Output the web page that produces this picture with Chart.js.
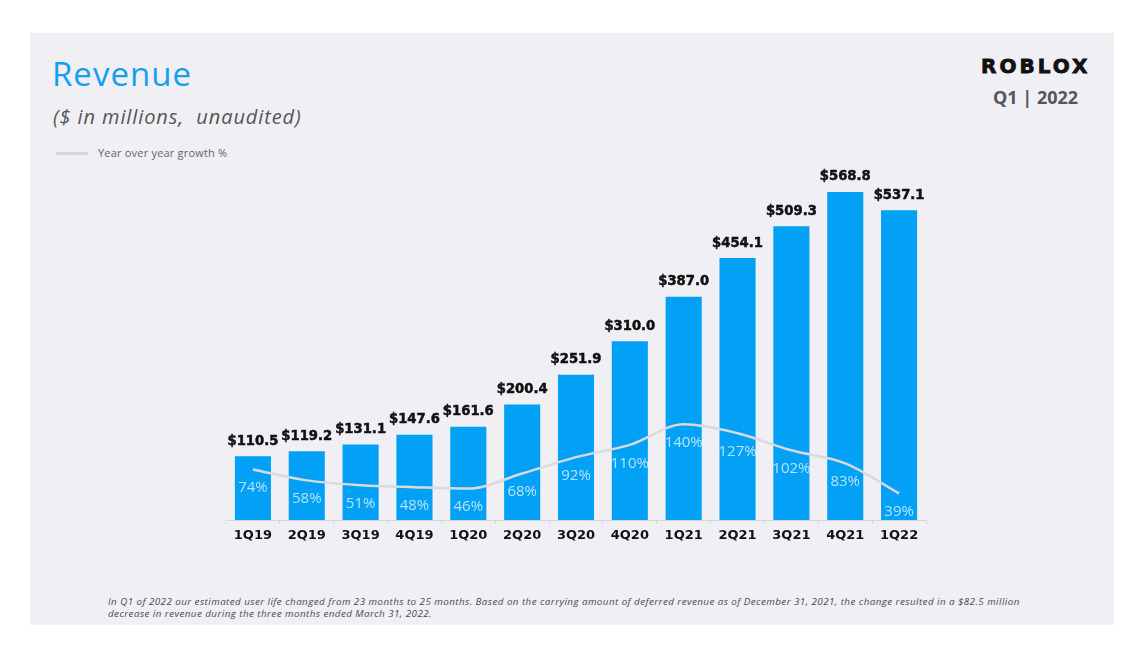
<!DOCTYPE html>
<html>
<head>
<meta charset="utf-8">
<script src="https://cdn.jsdelivr.net/npm/chart.js@4"></script>
<style>
  html, body { margin:0; padding:0; background:#ffffff; width:1144px; height:660px; overflow:hidden; }
  #panel { position:absolute; left:30px; top:33px; width:1084px; height:592px; background:#efeff4; }
  .abs { position:absolute; white-space:nowrap; }
  #title { left:52px; top:51px; font:400 33px "Open Sans", sans-serif; color:#169ff0; letter-spacing:1px; }
  #sub { left:53px; top:103px; font:italic 400 20px "Open Sans", sans-serif; color:#555558; letter-spacing:0.9px; }
  #legline { left:56px; top:152px; width:32px; height:3px; background:#d6d6da; }
  #legtext { left:98px; top:145px; font:400 11px "Open Sans", sans-serif; color:#666; letter-spacing:0.2px; }
  #logo { left:981px; top:54px; font:700 20px "DejaVu Sans", sans-serif; color:#111; letter-spacing:3px; -webkit-text-stroke:0.8px #111; }
  #q { left:993px; top:85px; font:700 18px "Open Sans", sans-serif; color:#55555a; }
  #foot { left:108px; top:596px; font:italic 400 9.8px "Open Sans", sans-serif; color:#4a4a4f; line-height:11.5px; letter-spacing:0.44px; }
  #wrap { position:absolute; left:200px; top:150px; width:760px; height:400px; }
</style>
</head>
<body>
<div id="panel"></div>
<div class="abs" id="title">Revenue</div>
<div class="abs" id="sub">($ in millions,&nbsp; unaudited)</div>
<div class="abs" id="legline"></div>
<div class="abs" id="legtext">Year over year growth %</div>
<div class="abs" id="logo">ROBLOX</div>
<div class="abs" id="q">Q1 | 2022</div>
<div class="abs" id="foot">In Q1 of 2022 our estimated user life changed from 23 months to 25 months. Based on the carrying amount of deferred revenue as of December 31, 2021, the change resulted in a $82.5 million<br>decrease in revenue during the three months ended March 31, 2022.</div>
<div id="wrap"><canvas id="c" width="760" height="400"></canvas></div>
<script>
const categories = ["1Q19","2Q19","3Q19","4Q19","1Q20","2Q20","3Q20","4Q20","1Q21","2Q21","3Q21","4Q21","1Q22"];
const revenue = [110.5, 119.2, 131.1, 147.6, 161.6, 200.4, 251.9, 310.0, 387.0, 454.1, 509.3, 568.8, 537.1];
const growth = [74, 58, 51, 48, 46, 68, 92, 110, 140, 127, 102, 83, 39];
const revenueLabels = ["$110.5","$119.2","$131.1","$147.6","$161.6","$200.4","$251.9","$310.0","$387.0","$454.1","$509.3","$568.8","$537.1"];
const growthLabels = growth.map(v => v + "%");

const labelPlugin = {
  id: 'labels',
  afterDatasetsDraw(chart) {
    const ctx = chart.ctx;
    ctx.save();
    const barMeta = chart.getDatasetMeta(1);
    ctx.font = '700 13.2px "DejaVu Sans", sans-serif';
    ctx.fillStyle = '#111111';
    ctx.strokeStyle = '#111111';
    ctx.lineWidth = 0.5;
    ctx.textAlign = 'center';
    ctx.textBaseline = 'middle';
    barMeta.data.forEach((el, i) => {
      ctx.fillText(revenueLabels[i], el.x, el.y - 15);
      ctx.strokeText(revenueLabels[i], el.x, el.y - 15);
    });
    const lineMeta = chart.getDatasetMeta(0);
    ctx.font = '400 15px "Open Sans", sans-serif';
    ctx.fillStyle = 'rgba(255,255,255,0.7)';
    lineMeta.data.forEach((el, i) => {
      ctx.fillText(growthLabels[i], el.x, el.y + 18.5);
    });
    ctx.restore();
  }
};

new Chart(document.getElementById('c'), {
  data: {
    labels: categories,
    datasets: [
      {
        type: 'line',
        label: 'Year over year growth %',
        data: growth,
        yAxisID: 'y1',
        borderColor: '#d9d9de',
        borderWidth: 2.5,
        cubicInterpolationMode: 'monotone',
        tension: 0.3,
        pointRadius: 0,
        fill: false,
        order: 0
      },
      {
        type: 'bar',
        label: 'Revenue',
        data: revenue,
        yAxisID: 'y',
        backgroundColor: '#03a1f6',
        categoryPercentage: 1.0,
        barPercentage: 0.67,
        order: 1
      }
    ]
  },
  options: {
    responsive: false,
    animation: false,
    layout: { padding: { left: 26, right: 34, top: 10, bottom: 0 } },
    plugins: { legend: { display: false }, tooltip: { enabled: false } },
    scales: {
      x: {
        offset: true,
        grid: { display: true, drawOnChartArea: false, drawTicks: true, tickLength: 4, color: '#d6d6da', offset: true },
        border: { display: true, color: '#d6d6da', width: 1 },
        ticks: { color: '#111', font: { family: 'DejaVu Sans', weight: '700', size: 13 }, padding: 4 },
        afterFit: (s) => { s.height = 30; }
      },
      y: { display: false, min: 0, max: 624.2 },
      y1: { display: false, min: 0, max: 527 }
    }
  },
  plugins: [labelPlugin]
});
</script>
</body>
</html>
